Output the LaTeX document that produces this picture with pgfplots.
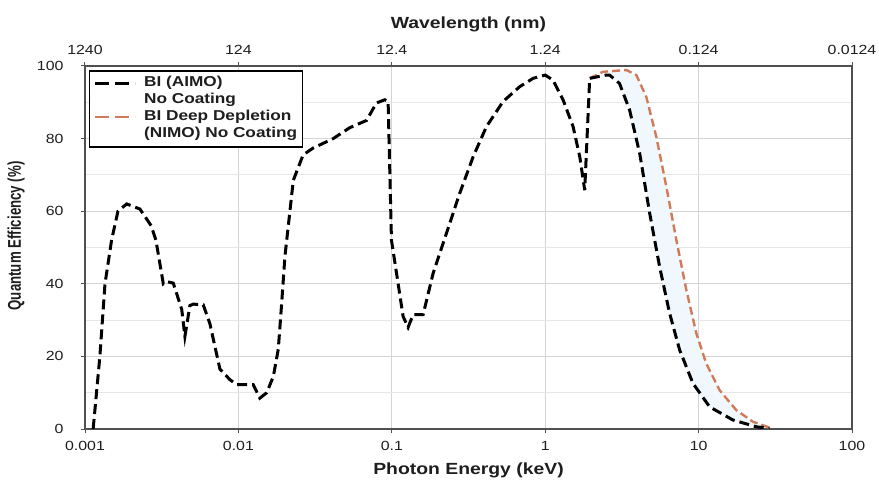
\documentclass[border=0pt]{standalone}
\usepackage{pgfplots}
\usepackage{pgfplotstable}
\pgfplotsset{compat=1.18}
\usepgfplotslibrary{fillbetween}
\usepackage{fontspec}
\setmainfont{Liberation Sans}[FakeStretch=1.2]
\newfontfamily\ylabfont{Liberation Sans}[FakeStretch=0.72]
\definecolor{axgray}{RGB}{80,80,80}
\definecolor{gridgray}{RGB}{212,212,212}
\definecolor{minorgray}{RGB}{230,230,230}
\definecolor{nimo}{RGB}{208,122,88}
\definecolor{fillblue}{RGB}{240,248,253}
\definecolor{txt}{RGB}{30,30,30}

\pgfplotstableread{
x y
0.00113 0
0.00125 20
0.00135 40
0.00149 52
0.00164 60
0.00187 62
0.00228 60.6
0.00270 56
0.00290 52
0.00324 40
0.00340 40.6
0.00376 40.2
0.00427 33
0.00448 25.5
0.00483 34
0.00508 34.4
0.00590 34.2
0.00652 29
0.00758 16.5
0.00880 13.6
0.00973 12.2
0.01249 12.2
0.0138 8.5
0.0153 10
0.0169 14.5
0.0182 22
0.0191 34
0.0201 47.5
0.0228 68.5
0.0264 75.5
0.0307 77.4
0.0415 80
0.0532 83
0.0684 85
0.0794 89.8
0.0900 90.7
0.0946 90.3
0.0995 52
0.110 40
0.1185 31
0.1277 28
0.1377 31.5
0.160 31.5
0.186 42.9
0.227 53.9
0.277 64.9
0.339 75.0
0.414 83.3
0.531 90.2
0.682 94.3
0.834 96.6
1.0 97.5
1.125 96.1
1.31 90.6
1.52 83.3
1.68 75.0
1.81 65.8
1.95 96.6
2.5 97.5
2.63 97.5
3.05 95.2
3.55 87.9
4.13 75.9
4.80 59.4
5.57 44.7
6.47 31.9
7.52 21.8
9.18 12.6
11.8 6.1
16.7 2.5
23.8 0.6
29.0 0.2
}\aimo

\pgfplotstableread{
x y
2.5 97.5
2.63 97.5
3.05 95.2
3.55 87.9
4.13 75.9
4.80 59.4
5.57 44.7
6.47 31.9
7.52 21.8
9.18 12.6
11.8 6.1
16.7 2.5
23.8 0.6
29.0 0.2
}\aimoseg

\pgfplotstableread{
x y
1.95 96.6
2.38 98.4
3.38 98.9
3.93 97.5
4.56 91.5
5.30 80.5
6.16 66.8
7.16 52.1
8.32 38.3
9.66 26.4
11.2 18.1
13.7 10.7
17.6 5.2
22.6 2.0
29.0 0.4
}\nimotab

\pgfplotstableread{
x y
2.5 98.6
3.38 98.9
3.93 97.5
4.56 91.5
5.30 80.5
6.16 66.8
7.16 52.1
8.32 38.3
9.66 26.4
11.2 18.1
13.7 10.7
17.6 5.2
22.6 2.0
29.0 0.4
}\nimoseg

\begin{document}
\begin{tikzpicture}
\begin{axis}[name=main,
  scale only axis, width=767bp, height=363bp,
  xmode=log, log basis x=10,
  xmin=0.001, xmax=100, ymin=0, ymax=100,
  xtick={0.001,0.01,0.1,1,10,100},
  xticklabels={0.001,0.01,0.1,1,10,100},
  ytick={0,20,40,60,80,100},
  minor ytick={10,30,50,70,90},
  xtick pos=bottom, ytick pos=left,
  tick align=outside,
  major tick length=4bp, minor tick length=0pt,
  grid=both,
  major grid style={gridgray, line width=0.8bp},
  minor grid style={minorgray, line width=0.8bp},
  axis line style={axgray, line width=2.2bp},
  major tick style={axgray, line width=1bp},
  /pgf/number format/assume math mode=true,
  ticklabel style={font=\fontsize{13.3}{16}\selectfont, text=txt},
  xticklabel style={yshift=-5bp},
  yticklabel style={xshift=-14bp},
  xlabel={Photon Energy (keV)},
  xlabel style={font=\fontsize{16.2}{18}\selectfont\bfseries, text=txt,
    at={(axis description cs:0.5,0)}, anchor=center, yshift=-41bp},
  ylabel={Quantum Efficiency (\%)},
  ylabel style={font=\fontsize{18.5}{20}\ylabfont\bfseries, text=txt,
    at={(axis description cs:0,0.532)}, anchor=center, yshift=69bp},
  legend image code/.code={\draw[#1] (0bp,0bp) -- (40bp,0bp);},
  legend style={at={(axis description cs:0.005,0.989)}, anchor=north west,
    draw=black, line width=1.6bp, fill=white,
    font=\fontsize{14.4}{16}\selectfont\bfseries, text=txt,
    row sep=0pt, column sep=6bp, inner xsep=4bp, inner ysep=4bp,
    nodes={inner sep=1.5bp, text height=10.5bp, text depth=3.5bp}},
  legend cell align=left,
]
\addplot[name path=blkseg, draw=none, forget plot] table {\aimoseg};
\addplot[name path=orseg, draw=none, forget plot] table {\nimoseg};
\addplot[fillblue, forget plot] fill between[of=blkseg and orseg];
\addplot[nimo, line width=2.4bp, dash pattern=on 8bp off 4bp, forget plot] table {\nimotab};
\addplot[black, line width=3bp, dash pattern=on 10bp off 5bp, forget plot] table {\aimo};
\addlegendimage{black, line width=3bp, dash pattern=on 14bp off 6bp}
\addlegendentry{BI (AIMO)}
\addlegendimage{empty legend}
\addlegendentry{No Coating}
\addlegendimage{nimo, line width=2.4bp, dash pattern=on 14bp off 6bp}
\addlegendentry{BI Deep Depletion}
\addlegendimage{empty legend}
\addlegendentry{(NIMO) No Coating}
\end{axis}
\begin{axis}[
  scale only axis, width=767bp, height=363bp,
  xmode=log, log basis x=10,
  xmin=0.001, xmax=100, ymin=0, ymax=100,
  axis x line*=top, axis y line=none,
  xtick={0.001,0.01,0.1,1,10,100},
  xticklabels={1240,124,12.4,1.24,0.124,0.0124},
  tick align=outside,
  major tick length=4bp, minor tick length=0pt,
  axis line style={axgray, line width=2.2bp},
  major tick style={axgray, line width=1bp},
  ticklabel style={font=\fontsize{13.3}{16}\selectfont, text=txt},
  xticklabel style={yshift=4bp},
  xlabel={Wavelength (nm)},
  xlabel style={font=\fontsize{16.2}{18}\selectfont\bfseries, text=txt,
    at={(axis description cs:0.5,1)}, anchor=center, yshift=42bp},
]
\addplot[draw=none] coordinates {(1,50)};
\end{axis}
\pgfresetboundingbox
\path ([shift={(-85bp,-54bp)}]main.south west) rectangle ([shift={(27bp,66bp)}]main.north east);
\end{tikzpicture}
\end{document}
